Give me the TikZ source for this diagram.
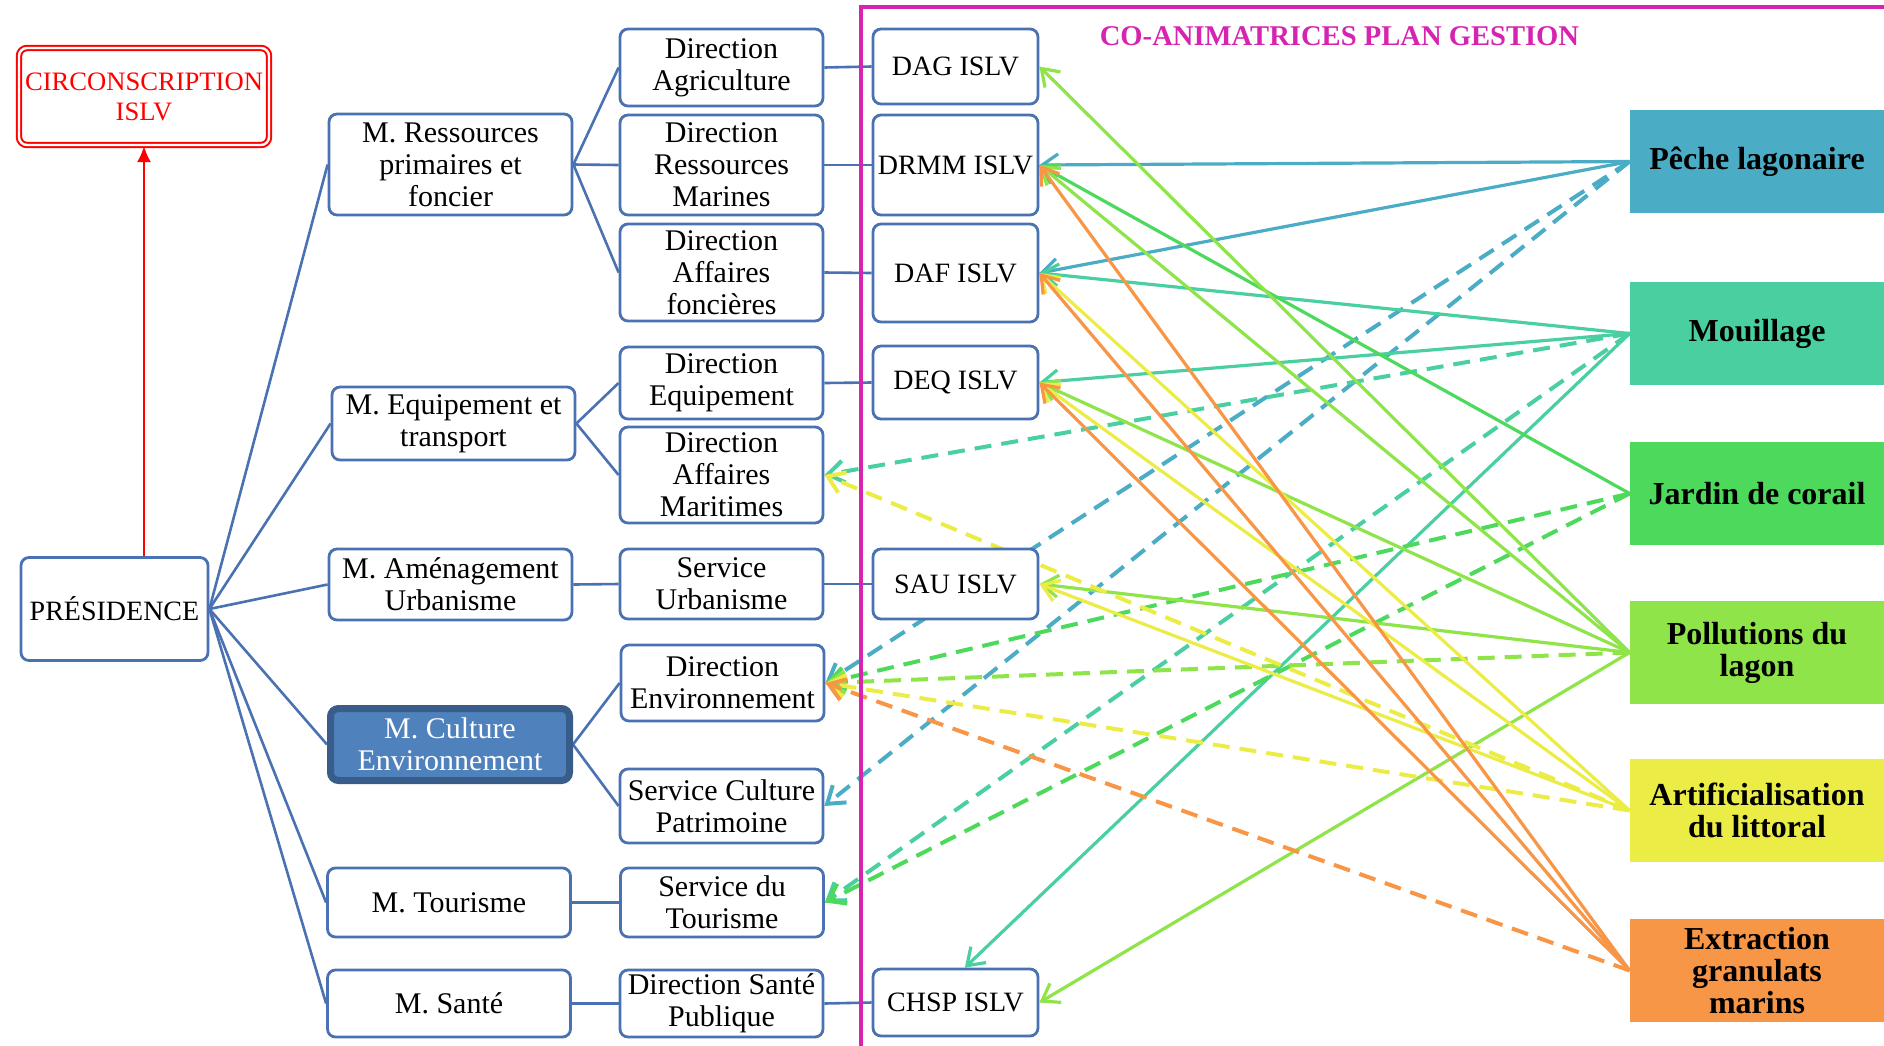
\documentclass[tikz,border=0pt]{standalone}
\usepackage{fontspec}
\setmainfont{Liberation Serif}
\usetikzlibrary{arrows.meta,backgrounds}
\definecolor{boxblue}{RGB}{79,129,189}
\definecolor{boxline}{RGB}{74,114,178}
\definecolor{darkblue}{RGB}{56,93,138}
\definecolor{framepink}{RGB}{214,36,176}
\definecolor{cpeche}{RGB}{75,172,198}
\definecolor{cmouil}{RGB}{74,208,160}
\definecolor{cjardin}{RGB}{76,217,92}
\definecolor{cpoll}{RGB}{142,228,72}
\definecolor{cartif}{RGB}{236,236,70}
\definecolor{cextr}{RGB}{247,150,70}

\begin{document}
\begin{tikzpicture}[x=0.5pt,y=-0.5pt,
  box/.style={draw=boxline,line width=1.4pt,rounded corners=4pt,fill=white,align=center,inner sep=1pt,font=\fontsize{15}{16}\selectfont},
  minbox/.style={box,minimum width=121.5pt},
  dirbox/.style={box,minimum width=101.5pt},
  islvbox/.style={box,minimum width=82.5pt,font=\fontsize{14}{16}\selectfont},
  theme/.style={fill=#1,minimum width=127pt,minimum height=51.5pt,align=center,inner sep=1pt,font=\bfseries\fontsize{16}{16}\selectfont},
  tree/.style={draw=boxline,line width=1.3pt},
  solidrel/.style={draw=#1,line width=1.6pt,-{Straight Barb[length=8pt,width=11pt]}},
  dashrel/.style={solidrel=#1,line width=2pt,dash pattern=on 8.5pt off 5pt}]
\useasboundingbox (0,0) rectangle (1884,1045);
\node[box,draw=red,text=red,double=white,double distance=1.2pt,line width=1pt,inner sep=0pt,minimum width=125pt,minimum height=48.5pt,font=\fontsize{13.3}{15}\selectfont] (circ) at (144,96.5) {CIRCONSCRIPTION\\ISLV};
\node[box,minimum width=93.5pt,minimum height=51.5pt,font=\fontsize{14}{16}\selectfont] (pres) at (114.5,609) {PRÉSIDENCE};
\node[minbox,minimum height=50.5pt] (mres) at (450.5,164.5) {M. Ressources\\primaires et\\foncier};
\node[minbox,minimum height=36.5pt] (mequ) at (453.5,423.5) {M. Equipement et\\transport};
\node[minbox,minimum height=35.5pt] (mam) at (450.5,584.5) {M. Aménagement\\Urbanisme};
\node[minbox,fill=boxblue,draw=darkblue,line width=3.5pt,text=white,minimum width=119.5pt,minimum height=36pt] (mcul) at (450,744.5) {M. Culture\\Environnement};
\node[minbox,minimum height=34.5pt] (mtou) at (449,902.5) {M. Tourisme};
\node[minbox,minimum height=33.5pt] (msan) at (449,1003.5) {M. Santé};
\node[dirbox,minimum height=38.5pt] (dagr) at (721.5,67.5) {Direction\\Agriculture};
\node[dirbox,minimum height=50pt] (drm) at (721.5,165) {Direction\\Ressources\\Marines};
\node[dirbox,minimum height=48.5pt] (daf) at (721.5,272.5) {Direction\\Affaires\\foncières};
\node[dirbox,minimum height=36pt] (dequ) at (721.5,383) {Direction\\Equipement};
\node[dirbox,minimum height=48pt] (dam) at (721.5,475) {Direction\\Affaires\\Maritimes};
\node[dirbox,minimum height=35pt] (surb) at (721.5,584) {Service\\Urbanisme};
\node[dirbox,minimum height=38pt] (denv) at (722.5,683) {Direction\\Environnement};
\node[dirbox,minimum height=37pt] (scul) at (721.5,806) {Service Culture\\Patrimoine};
\node[dirbox,minimum height=34.5pt] (stou) at (722,902.5) {Service du\\Tourisme};
\node[dirbox,minimum height=33.5pt] (dsan) at (721.5,1003.5) {Direction Santé\\Publique};
\node[islvbox,minimum height=37.5pt] (dag) at (955.5,66.5) {DAG ISLV};
\node[islvbox,minimum height=50pt] (drmm) at (955.5,165) {DRMM ISLV};
\node[islvbox,minimum height=49pt] (dafi) at (955.5,273) {DAF ISLV};
\node[islvbox,minimum height=36.5pt] (deq) at (955.5,382.5) {DEQ ISLV};
\node[islvbox,minimum height=35pt] (sau) at (955.5,584) {SAU ISLV};
\node[islvbox,minimum height=33.5pt] (chsp) at (955.5,1002.5) {CHSP ISLV};
\node[theme=cpeche] (peche) at (1757,161.5) {Pêche lagonaire};
\node[theme=cmouil] (mouil) at (1757,333.5) {Mouillage};
\node[theme=cjardin] (jardin) at (1757,493.5) {Jardin de corail};
\node[theme=cpoll] (poll) at (1757,652.5) {Pollutions du\\lagon};
\node[theme=cartif] (artif) at (1757,810.5) {Artificialisation\\du littoral};
\node[theme=cextr] (extr) at (1757,970.5) {Extraction\\granulats\\marins};
\node[text=framepink,font=\bfseries\fontsize{14.3}{16}\selectfont] (titre) at (1339.5,36) {CO-ANIMATRICES PLAN GESTION};
\draw[framepink,line width=2.4pt] (861,1050) -- (861,7) -- (1890,7);
\draw[red,line width=1.2pt,-{Latex[length=8pt,width=7pt]}] (circ.south |- pres.north) -- (circ.south);
\begin{scope}[on background layer]
\draw[tree] (pres.east) -- (mres.west);
\draw[tree] (pres.east) -- (mequ.west);
\draw[tree] (pres.east) -- (mam.west);
\draw[tree] (pres.east) -- (mcul.west);
\draw[tree] (pres.east) -- (mtou.west);
\draw[tree] (pres.east) -- (msan.west);
\draw[tree] (mres.east) -- (dagr.west);
\draw[tree] (mres.east) -- (drm.west);
\draw[tree] (mres.east) -- (daf.west);
\draw[tree] (mequ.east) -- (dequ.west);
\draw[tree] (mequ.east) -- (dam.west);
\draw[tree] (mam.east) -- (surb.west);
\draw[tree] (mcul.east) -- (denv.west);
\draw[tree] (mcul.east) -- (scul.west);
\draw[tree] (mtou.east) -- (stou.west);
\draw[tree] (msan.east) -- (dsan.west);
\draw[tree] (dagr.east) -- (dag.west);
\draw[tree] (drm.east) -- (drmm.west);
\draw[tree] (daf.east) -- (dafi.west);
\draw[tree] (dequ.east) -- (deq.west);
\draw[tree] (surb.east) -- (sau.west);
\draw[tree] (dsan.east) -- (chsp.west);
\draw[solidrel=cpeche] (peche.west) -- (drmm.east);
\draw[solidrel=cpeche] (peche.west) -- (dafi.east);
\draw[dashrel=cpeche] (peche.west) -- (denv.east);
\draw[dashrel=cpeche] (peche.west) -- (scul.east);
\draw[solidrel=cmouil] (mouil.west) -- (dafi.east);
\draw[solidrel=cmouil] (mouil.west) -- (deq.east);
\draw[solidrel=cmouil] (mouil.west) -- (chsp.75);
\draw[dashrel=cmouil] (mouil.west) -- (dam.east);
\draw[dashrel=cmouil] (mouil.west) -- (stou.east);
\draw[solidrel=cjardin] (jardin.west) -- (drmm.east);
\draw[dashrel=cjardin] (jardin.west) -- (denv.east);
\draw[dashrel=cjardin] (jardin.west) -- (stou.east);
\draw[solidrel=cpoll] (poll.west) -- (dag.east);
\draw[solidrel=cpoll] (poll.west) -- (drmm.east);
\draw[solidrel=cpoll] (poll.west) -- (deq.east);
\draw[solidrel=cpoll] (poll.west) -- (sau.east);
\draw[solidrel=cpoll] (poll.west) -- (chsp.east);
\draw[dashrel=cpoll] (poll.west) -- (denv.east);
\draw[solidrel=cartif] (artif.west) -- (dafi.east);
\draw[solidrel=cartif] (artif.west) -- (deq.east);
\draw[solidrel=cartif] (artif.west) -- (sau.east);
\draw[dashrel=cartif] (artif.west) -- (dam.east);
\draw[dashrel=cartif] (artif.west) -- (denv.east);
\draw[solidrel=cextr] (extr.west) -- (drmm.east);
\draw[solidrel=cextr] (extr.west) -- (dafi.east);
\draw[solidrel=cextr] (extr.west) -- (deq.east);
\draw[dashrel=cextr] (extr.west) -- (denv.east);
\end{scope}
\end{tikzpicture}
\end{document}
